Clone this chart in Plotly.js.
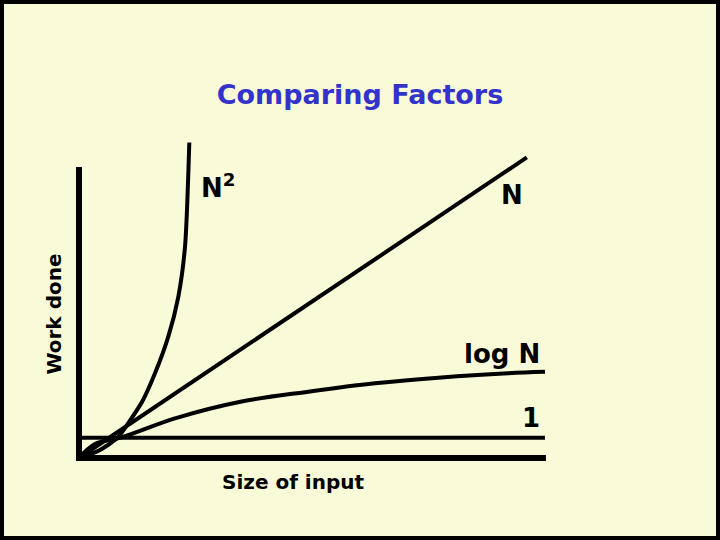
<!DOCTYPE html>
<html>
<head>
<meta charset="utf-8">
<script src="https://cdn.plot.ly/plotly-3.0.1.min.js"></script>
<style>html,body{margin:0;padding:0;background:#F8FAD8;}</style>
</head>
<body>
<div id="chart" style="width:720px;height:540px;"></div>
<script>
// Data (arbitrary units: size of input vs work done)
const nSquaredX = [0, 4.3, 8.3, 11.0, 13.6, 16.31, 19.16, 21.31, 22.75, 23.67];
const nSquaredY = [0, 2.6, 7.0, 13.0, 19.5, 29.1, 41.7, 55.4, 72.6, 108.4];

const nLinearX = [0, 96.1];
const nLinearY = [0, 103.3];

const logNX = [0, 3.43, 9.16, 20.6, 34.9, 49.2, 63.5, 77.8, 92.1, 100];
const logNY = [0, 4.8, 7.1, 13.6, 19.4, 22.8, 25.7, 27.7, 29.1, 29.6];

const constX = [0, 100];
const constY = [7.0, 7.0];

const axisX = [0, 0, 100.2];
const axisY = [100, 0, 0];

const labels = ['N<sup>2</sup>', 'N', 'log N', '1'];
const labelX = [25.8, 92.9, 99.4, 99.4];
const labelY = [93.5, 90.4, 35.6, 13.7];

const lineStyle = {color: '#000000', width: 4};

const traces = [
  {x: axisX, y: axisY, mode: 'lines', line: {color: '#000000', width: 6}, hoverinfo: 'skip', showlegend: false},
  {x: constX, y: constY, mode: 'lines', line: lineStyle, name: '1', showlegend: false},
  {x: logNX, y: logNY, mode: 'lines', line: Object.assign({shape: 'spline', smoothing: 1}, lineStyle), name: 'log N', showlegend: false},
  {x: nLinearX, y: nLinearY, mode: 'lines', line: lineStyle, name: 'N', showlegend: false},
  {x: nSquaredX, y: nSquaredY, mode: 'lines', line: Object.assign({shape: 'spline', smoothing: 0.7}, lineStyle), name: 'N²', showlegend: false}
];

const labelFont = {family: 'DejaVu Sans', size: 26, color: '#000000', weight: 'bold'};
const anchors = ['left', 'center', 'right', 'right'];
const annotations = labels.map((t, i) => ({
  text: t, x: labelX[i], y: labelY[i], xref: 'x', yref: 'y',
  xanchor: anchors[i], yanchor: 'middle', showarrow: false, font: labelFont
}));
annotations.push({
  text: 'Size of input', x: 45.9, y: -0.0343, xref: 'x', yref: 'paper',
  xanchor: 'center', yanchor: 'middle', showarrow: false,
  font: {family: 'DejaVu Sans', size: 20, color: '#000000', weight: 'bold'}
});
annotations.push({
  text: 'Work done', x: 0.027, y: 49.3, xref: 'paper', yref: 'y', textangle: -90,
  xanchor: 'center', yanchor: 'middle', showarrow: false,
  font: {family: 'DejaVu Sans', size: 20, color: '#000000', weight: 'bold'}
});

const layout = {
  width: 720, height: 540,
  margin: {l: 40, r: 160, t: 120, b: 70, pad: 0},
  paper_bgcolor: '#F8FAD8', plot_bgcolor: 'rgba(0,0,0,0)',
  title: {
    text: 'Comparing Factors', xref: 'container', yref: 'container',
    x: 0.5, xanchor: 'center', y: 1 - 95/540, yanchor: 'middle',
    font: {family: 'DejaVu Sans', size: 27, color: '#3333CC', weight: 'bold'}
  },
  xaxis: {range: [-8.369, 103.219], showgrid: false, zeroline: false, showticklabels: false, ticks: '', showline: false},
  yaxis: {range: [-4.124, 116.151], showgrid: false, zeroline: false, showticklabels: false, ticks: '', showline: false},
  annotations: annotations,
  shapes: [{
    type: 'rect', xref: 'paper', yref: 'paper',
    x0: -40/520, x1: 680/520, y0: -70/350, y1: 470/350,
    line: {color: '#000000', width: 8}, fillcolor: 'rgba(0,0,0,0)', layer: 'above'
  }],
  showlegend: false
};

Plotly.newPlot('chart', traces, layout, {displayModeBar: false, staticPlot: true});
</script>
</body>
</html>
